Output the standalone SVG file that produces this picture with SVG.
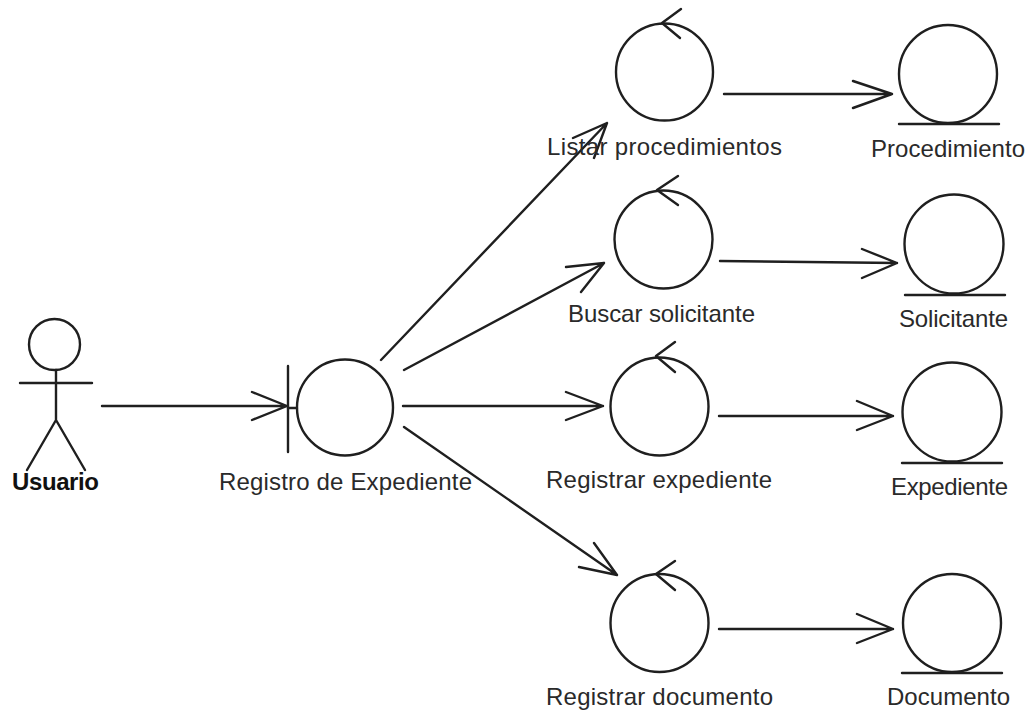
<svg xmlns="http://www.w3.org/2000/svg" width="1035" height="713" viewBox="0 0 1035 713">
<style>
.s{fill:none;stroke:#1f1f1f;stroke-width:2.4;stroke-linecap:round;stroke-linejoin:round}
.t{font-family:"Liberation Sans",Arial,sans-serif;font-size:24px;fill:#2a2a2a;text-anchor:middle}
.b{font-weight:bold;fill:#111}
</style>
<rect width="1035" height="713" fill="#fff"/>
<g id="connectors" class="s">
<path d="M102 406H287M252 392L287 406L252 420"/>
<path d="M288 408H297"/>
<path d="M381 360L607 123M573 138L607 123L594 158"/>
<path d="M404 370L604 263M566 267L604 263L581 292"/>
<path d="M403 406H603M566 392L603 406L566 420"/>
<path d="M404 427L617 575M594 543L617 575L579 567"/>
<path d="M724 94H892M853 81L892 94L853 108"/>
<path d="M720 261L897 263M862 249L897 263L862 278"/>
<path d="M719 416H893M857 401L893 416L857 430"/>
<path d="M719 629H893M857 614L893 629L857 643"/>
</g>
<g id="usuario"><g class="s"><circle cx="54.500" cy="344.500" r="25.500"/><path d="M20 383H92M56 370V420L27 470M56 420L85 470"/></g><text class="t b" x="55.500" y="490" textLength="87">Usuario</text></g>
<g id="registro"><g class="s"><circle cx="345" cy="407.500" r="48"/><path d="M288 366V452"/></g><text class="t" x="345.500" y="490" textLength="253">Registro de Expediente</text></g>
<g id="listar"><g class="s"><circle cx="664.500" cy="72" r="48.500"/><path d="M681 9L662 23L680 38"/></g><text class="t" x="664.500" y="155" textLength="235">Listar procedimientos</text></g>
<g id="buscar"><g class="s"><circle cx="663.500" cy="239.500" r="49"/><path d="M678 176L657 190L678 205"/></g><text class="t" x="661.500" y="322" textLength="187">Buscar solicitante</text></g>
<g id="registrar-exp"><g class="s"><circle cx="659.500" cy="406.500" r="49"/><path d="M675 342L656 356L675 372"/></g><text class="t" x="659" y="488" textLength="226">Registrar expediente</text></g>
<g id="registrar-doc"><g class="s"><circle cx="659.500" cy="623" r="49"/><path d="M675 561L656 574L675 590"/></g><text class="t" x="659.500" y="705" textLength="227">Registrar documento</text></g>
<g id="procedimiento"><g class="s"><circle cx="948" cy="74" r="49"/><path d="M899 124H999"/></g><text class="t" x="948" y="157" textLength="154">Procedimiento</text></g>
<g id="solicitante"><g class="s"><circle cx="954" cy="244" r="49.500"/><path d="M905 295H1005"/></g><text class="t" x="953.500" y="327" textLength="109">Solicitante</text></g>
<g id="expediente"><g class="s"><circle cx="952" cy="412" r="49.500"/><path d="M902 463H1002"/></g><text class="t" x="949.500" y="495" textLength="117">Expediente</text></g>
<g id="documento"><g class="s"><circle cx="952" cy="623" r="49"/><path d="M902 673H1002"/></g><text class="t" x="948.500" y="705" textLength="123">Documento</text></g>
</svg>
